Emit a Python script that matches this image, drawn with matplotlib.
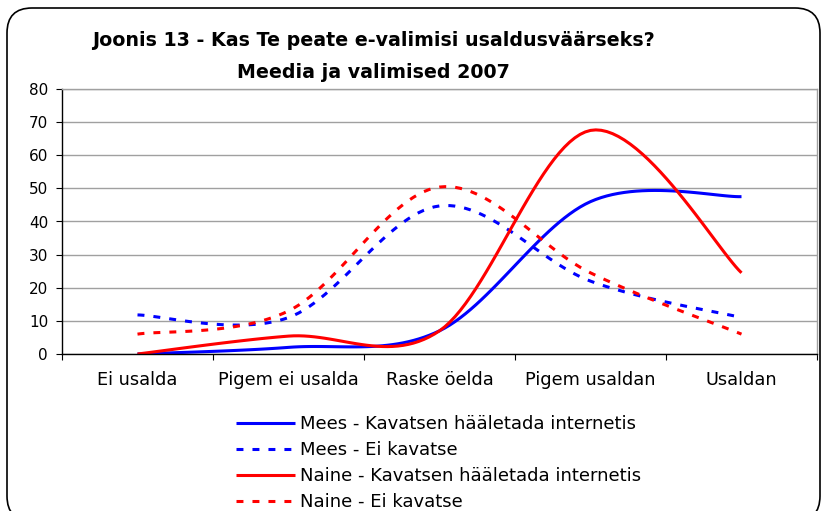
import numpy as np
import matplotlib
matplotlib.use('Agg')
import matplotlib.pyplot as plt
from matplotlib.patches import FancyBboxPatch
from matplotlib.transforms import IdentityTransform

plt.rcParams['font.family'] = ['DejaVu Sans']
plt.rcParams['lines.scale_dashes'] = False

categories = ['Ei usalda', 'Pigem ei usalda', 'Raske öelda', 'Pigem usaldan', 'Usaldan']
mees_kavatsen = [0, 2, 7, 46, 47.5]
mees_ei = [11.8, 11, 44.7, 22, 11]
naine_kavatsen = [0, 5.4, 7, 67.5, 24.5]
naine_ei = [6, 13, 50.4, 24.5, 6]

labels = ['Mees - Kavatsen hääletada internetis', 'Mees - Ei kavatse',
          'Naine - Kavatsen hääletada internetis', 'Naine - Ei kavatse']


def smooth(xs, ys, n=30):
    # Excel-like smoothing: cubic Bezier, control points from neighbours / 6
    p = np.column_stack([xs, ys]).astype(float)
    ext = np.vstack([p[0], p, p[-1]])
    out = []
    for i in range(len(p) - 1):
        p0, p1 = ext[i + 1], ext[i + 2]
        c1 = p0 + (ext[i + 2] - ext[i]) / 6
        c2 = p1 - (ext[i + 3] - ext[i + 1]) / 6
        t = np.linspace(0, 1, n)[:, None]
        seg = ((1 - t) ** 3) * p0 + 3 * ((1 - t) ** 2) * t * c1 + 3 * (1 - t) * t ** 2 * c2 + t ** 3 * p1
        out.append(seg if i == 0 else seg[1:])
    s = np.vstack(out)
    return s[:, 0], s[:, 1]


W, H = 821, 511
fig = plt.figure(figsize=(W / 100, H / 100), dpi=100)
ax = fig.add_axes([62 / W, (H - 354) / H, (817 - 62) / W, (354 - 89) / H])

x = np.arange(len(categories))
dash = (0, (5, 6.5))
series = [(mees_kavatsen, '#0000ff', '-'), (mees_ei, '#0000ff', dash),
          (naine_kavatsen, '#ff0000', '-'), (naine_ei, '#ff0000', dash)]
for (vals, col, ls), lab in zip(series, labels):
    sx, sy = smooth(x, vals)
    ax.plot(sx, sy, color=col, linestyle=ls, linewidth=2.2, label=lab,
            solid_capstyle='butt', dash_capstyle='butt')

ax.set_xlim(-0.5, len(categories) - 0.5)
ax.set_ylim(0, 80)
ax.set_yticks(range(0, 81, 10))
ax.set_xticks(np.arange(-0.5, len(categories), 1.0))
ax.set_xticklabels([])
ax.set_xticks(x, minor=True)
ax.set_xticklabels(categories, minor=True)
ax.tick_params(axis='x', which='minor', length=0, pad=12, labelsize=12.8)
ax.tick_params(axis='x', which='major', length=4, color='black', direction='out')
ax.tick_params(axis='y', length=4, color='black', labelsize=11, pad=6)
ax.grid(axis='y', color='#a0a0a0', linewidth=1)
ax.set_axisbelow(True)
for side in ['top', 'right']:
    ax.spines[side].set_color('#a0a0a0')
for side in ['left', 'bottom']:
    ax.spines[side].set_color('black')
for sp in ax.spines.values():
    sp.set_linewidth(1)

fig.text(373 / W, 1 - 40 / H, 'Joonis 13 - Kas Te peate e-valimisi usaldusväärseks?',
         ha='center', va='center', fontsize=13.7, fontweight='bold')
fig.text(373 / W, 1 - 72 / H, 'Meedia ja valimised 2007',
         ha='center', va='center', fontsize=13.7, fontweight='bold')

fig.legend(loc='upper left', bbox_to_anchor=(236 / W, 1 - 415 / H), frameon=False,
           fontsize=13, handlelength=3.27, handletextpad=0.28, labelspacing=0.44,
           borderaxespad=0, borderpad=0)

frame = FancyBboxPatch((7, -10), 813, H - 8 + 10, boxstyle='round,pad=0,rounding_size=25',
                       transform=IdentityTransform(), facecolor='none', edgecolor='black',
                       linewidth=1.2, figure=fig)
fig.patches.append(frame)

fig.savefig('out.png', dpi=100)
